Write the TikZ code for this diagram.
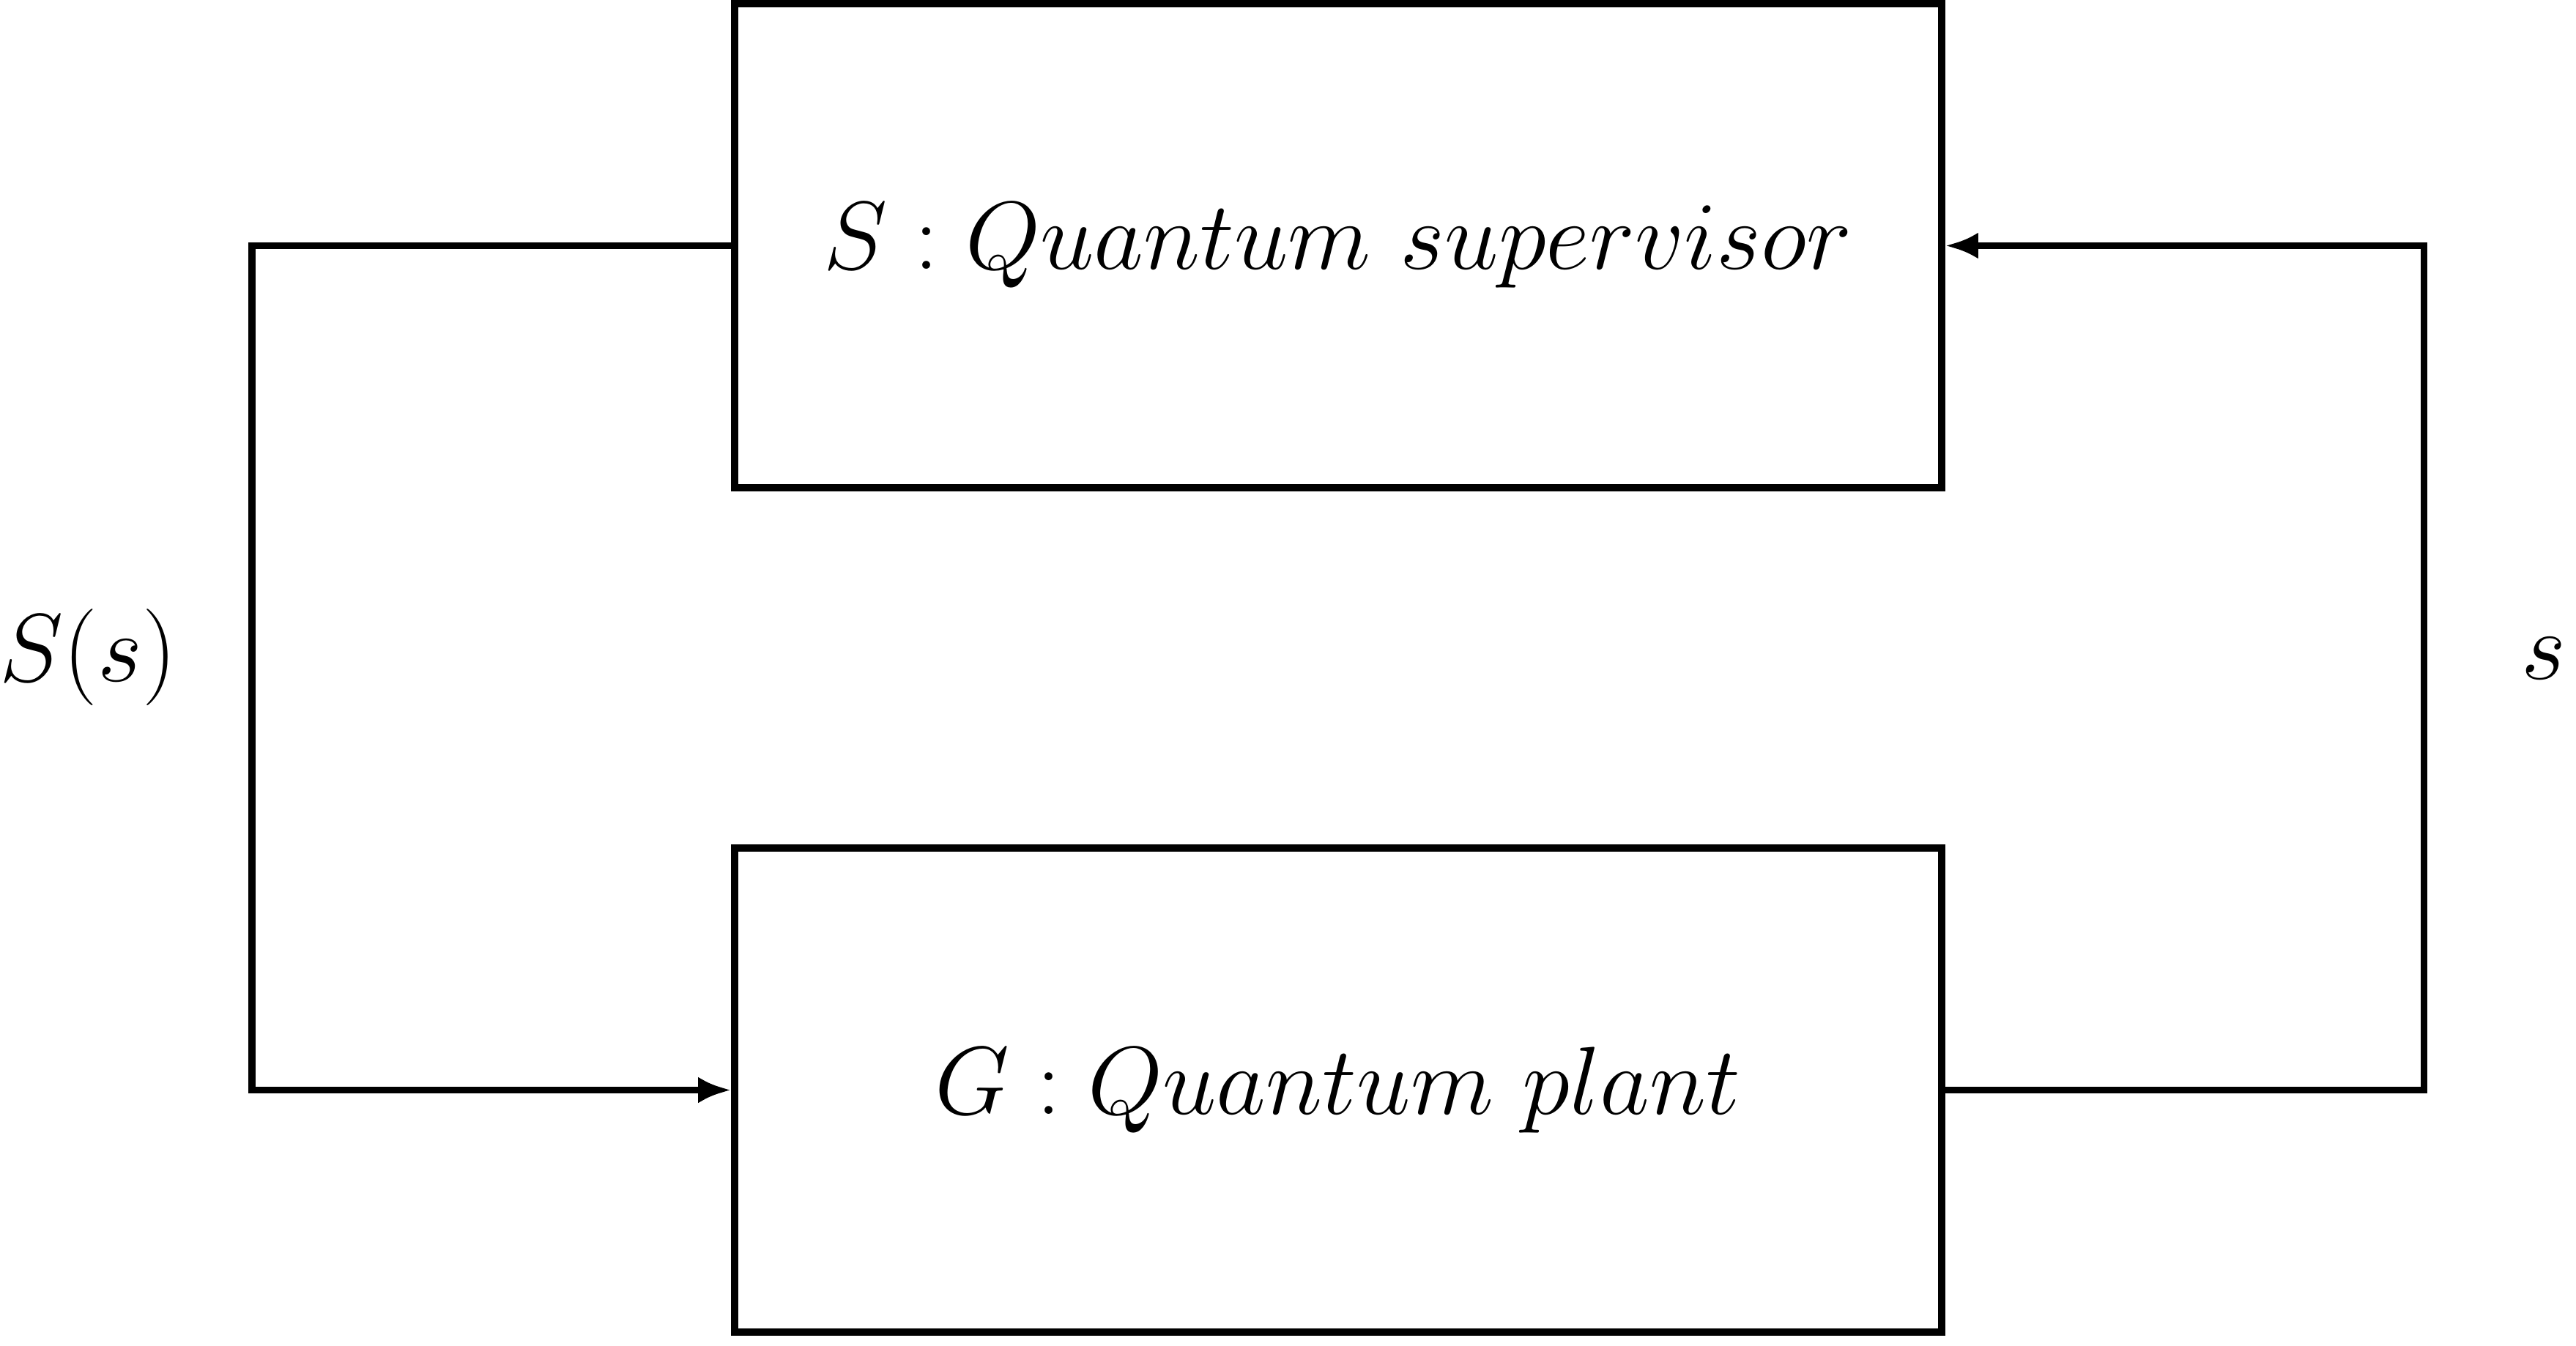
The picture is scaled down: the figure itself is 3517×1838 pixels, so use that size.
\documentclass[tikz,border=0pt]{standalone}
\usetikzlibrary{arrows.meta}
\begin{document}
\begin{tikzpicture}[x=0.1885pt,y=-0.1885pt,
  line width=1.79pt,
  blockbox/.style={draw, line width=1.79pt, minimum width=310.7pt, minimum height=124.6pt, inner sep=0pt, font=\Huge},
  lbl/.style={anchor=base, inner sep=0pt, font=\Huge},
  arr/.style={-{Latex[length=8.5pt,width=6.8pt]}}]
\useasboundingbox (0,0) rectangle (3517,1838);
\node[blockbox] (sup) at (1827,335.5) {$S: Quantum\ supervisor$};
\node[blockbox] (plant) at (1827,1488.5) {$G: Quantum\ plant$};
\coordinate (lt) at (344,335.5);
\coordinate (rt) at (3309.5,1488.5);
\draw[arr] (sup.west) -- (lt) |- (plant.west);
\draw[arr] (plant.east) -- (rt) |- (sup.east);
\node[lbl] (Ss) at (120,930) {$S(s)$};
\node[lbl] (s) at (3473,927) {$s$};
\end{tikzpicture}
\end{document}
